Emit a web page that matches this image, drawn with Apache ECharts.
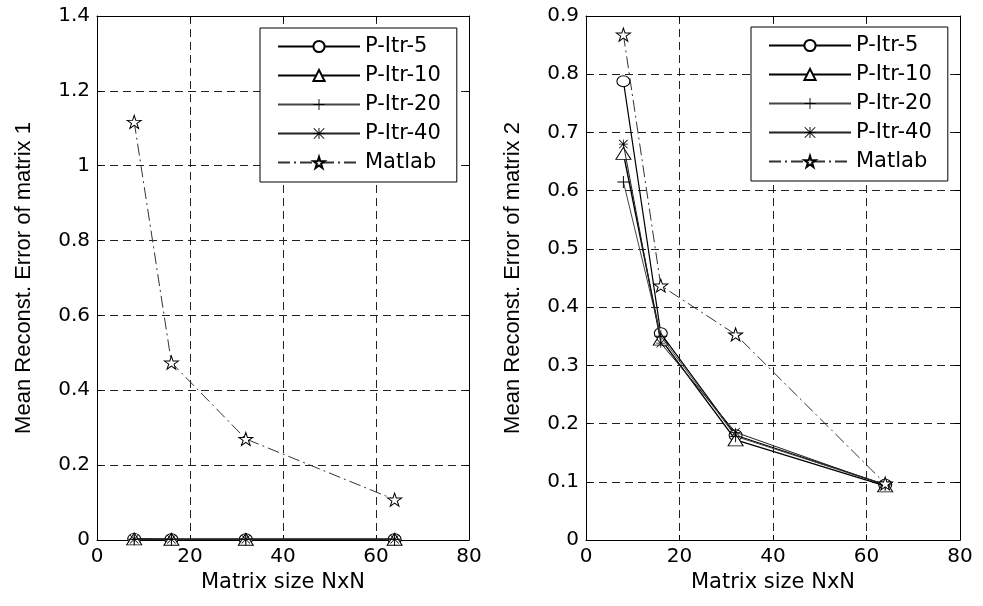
<!DOCTYPE html>
<html><head><meta charset="utf-8">
<script src="https://cdn.jsdelivr.net/npm/echarts@6/dist/echarts.min.js"></script>
<style>html,body{margin:0;padding:0;background:#fff}#c{width:983px;height:606px}</style>
</head><body><div id="c"></div>
<script>
// ---- data ----
const matrixSizes = [8, 16, 32, 64];
const seriesNames = ['P-Itr-5', 'P-Itr-10', 'P-Itr-20', 'P-Itr-40', 'Matlab'];

// matrix 1 (left plot)
const m1_PItr5  = [0.003, 0.002, 0.002, 0.002];
const m1_PItr10 = [0.003, 0.002, 0.002, 0.002];
const m1_PItr20 = [0.002, 0.002, 0.002, 0.002];
const m1_PItr40 = [0.002, 0.002, 0.002, 0.002];
const m1_Matlab = [1.117, 0.474, 0.270, 0.108];

// matrix 2 (right plot)
const m2_PItr5  = [0.788, 0.355, 0.180, 0.095];
const m2_PItr10 = [0.664, 0.345, 0.172, 0.093];
const m2_PItr20 = [0.615, 0.350, 0.178, 0.095];
const m2_PItr40 = [0.680, 0.338, 0.185, 0.094];
const m2_Matlab = [0.868, 0.437, 0.353, 0.097];

const xTicks  = [0, 20, 40, 60, 80];
const yTicks1 = [0, 0.2, 0.4, 0.6, 0.8, 1, 1.2, 1.4];
const yTicks2 = [0, 0.1, 0.2, 0.3, 0.4, 0.5, 0.6, 0.7, 0.8, 0.9];

const xTitle = 'Matrix size NxN';
const yTitle1 = 'Mean Reconst. Error of matrix 1';
const yTitle2 = 'Mean Reconst. Error of matrix 2';

// ---- styles ----
const STAR = 'path://M10,0 L12.245,6.91 L19.51,6.91 L13.63,11.18 L15.88,18.09 L10,13.82 L4.12,18.09 L6.37,11.18 L0.49,6.91 L7.755,6.91 Z';
const PLUS = 'path://M4.6,0 H5.4 V4.6 H10 V5.4 H5.4 V10 H4.6 V5.4 H0 V4.6 H4.6 Z';
const ASTER = 'path://M4.6,0 H5.4 V4.6 H10 V5.4 H5.4 V10 H4.6 V5.4 H0 V4.6 H4.6 Z M0.6,0 L10,9.4 L9.4,10 L0,0.6 Z M9.4,0 L10,0.6 L0.6,10 L0,9.4 Z';

const styles = [
  {symbol: 'circle',   symbolSize: [13, 11], fill: '#fff', border: '#000', line: {color: '#000', width: 1.2, type: 'solid'}},
  {symbol: 'triangle', symbolSize: [15, 12], fill: '#fff', border: '#000', line: {color: '#000', width: 1.4, type: 'solid'}},
  {symbol: PLUS,       symbolSize: 12,       fill: '#000', border: null,   line: {color: '#444', width: 1, type: 'solid'}},
  {symbol: ASTER,      symbolSize: 9,        fill: '#000', border: null,   line: {color: '#222', width: 1, type: 'solid'}},
  {symbol: STAR,       symbolSize: [14, 13], fill: '#fff', border: '#000', line: {color: '#333', width: 1, type: [12, 4, 2, 4]}}
];

const FONT_H = 'DejaVu Sans';
const FONT_V = 'Liberation Sans';

function mkSeries(name, idx, vals, axisIdx) {
  const s = styles[idx];
  return {
    name: name, type: 'line',
    xAxisIndex: axisIdx, yAxisIndex: axisIdx,
    data: matrixSizes.map((x, i) => [x, vals[i]]),
    symbol: s.symbol, symbolSize: s.symbolSize, showAllSymbol: true,
    itemStyle: {color: s.fill, borderColor: s.border || s.fill, borderWidth: s.border ? 1 : 0},
    lineStyle: s.line,
    emphasis: {disabled: true},
    z: 3 + idx
  };
}

const m1 = [m1_PItr5, m1_PItr10, m1_PItr20, m1_PItr40, m1_Matlab];
const m2 = [m2_PItr5, m2_PItr10, m2_PItr20, m2_PItr40, m2_Matlab];

const series = [];
seriesNames.forEach((n, i) => series.push(mkSeries(n, i, m1[i], 0)));
seriesNames.forEach((n, i) => series.push(mkSeries(n, i, m2[i], 2)));

const splitDash = {show: true, lineStyle: {color: '#222', width: 1, type: [8, 5]}};

function xAx(grid, primary) {
  return {
    type: 'value', gridIndex: grid, position: primary ? 'bottom' : 'top',
    min: xTicks[0], max: xTicks[xTicks.length - 1], interval: xTicks[1] - xTicks[0],
    axisLine: {show: true, onZero: false, lineStyle: {color: '#000', width: 1}},
    axisTick: {show: true, inside: true, length: 5, lineStyle: {color: '#000'}},
    axisLabel: {show: primary, color: '#000', fontFamily: FONT_H, fontSize: 20, margin: 7},
    splitLine: primary ? splitDash : {show: false},
    name: primary ? xTitle : '', nameLocation: 'middle', nameGap: 30,
    nameTextStyle: {color: '#000', fontFamily: FONT_H, fontSize: 21}
  };
}
function yAx(grid, primary, ticks, title) {
  return {
    type: 'value', gridIndex: grid, position: primary ? 'left' : 'right',
    min: ticks[0], max: ticks[ticks.length - 1], interval: ticks[1] - ticks[0],
    axisLine: {show: true, onZero: false, lineStyle: {color: '#000', width: 1}},
    axisTick: {show: true, inside: true, length: 5, lineStyle: {color: '#000'}},
    axisLabel: {show: primary, color: '#000', fontFamily: FONT_H, fontSize: 20, margin: 7},
    splitLine: primary ? splitDash : {show: false},
    name: primary ? title : '', nameLocation: 'middle', nameGap: 62,
    nameTextStyle: {color: '#000', fontFamily: FONT_V, fontSize: 22}
  };
}

function legend(left, top) {
  return {
    show: true, orient: 'vertical', left: left, top: top,
    data: seriesNames,
    backgroundColor: '#fff', borderColor: '#000', borderWidth: 1,
    padding: [8, 16, 9, 17],
    itemWidth: 82, itemHeight: 14, itemGap: 8,
    textStyle: {color: '#000', fontFamily: FONT_H, fontSize: 21, lineHeight: 20},
    selectedMode: false, z: 20
  };
}

const chart = echarts.init(document.getElementById('c'), null, {renderer: 'canvas'});
chart.setOption({
  animation: false,
  backgroundColor: '#fff',
  grid: [
    {left: 97, top: 16, width: 372, height: 524, show: false},
    {left: 586, top: 16, width: 374, height: 524, show: false}
  ],
  xAxis: [xAx(0, true), xAx(0, false), xAx(1, true), xAx(1, false)],
  yAxis: [yAx(0, true, yTicks1, yTitle1), yAx(0, false, yTicks1, ''), yAx(1, true, yTicks2, yTitle2), yAx(1, false, yTicks2, '')],
  legend: [legend(260, 28), legend(751, 27)],
  series: series
});
</script></body></html>
